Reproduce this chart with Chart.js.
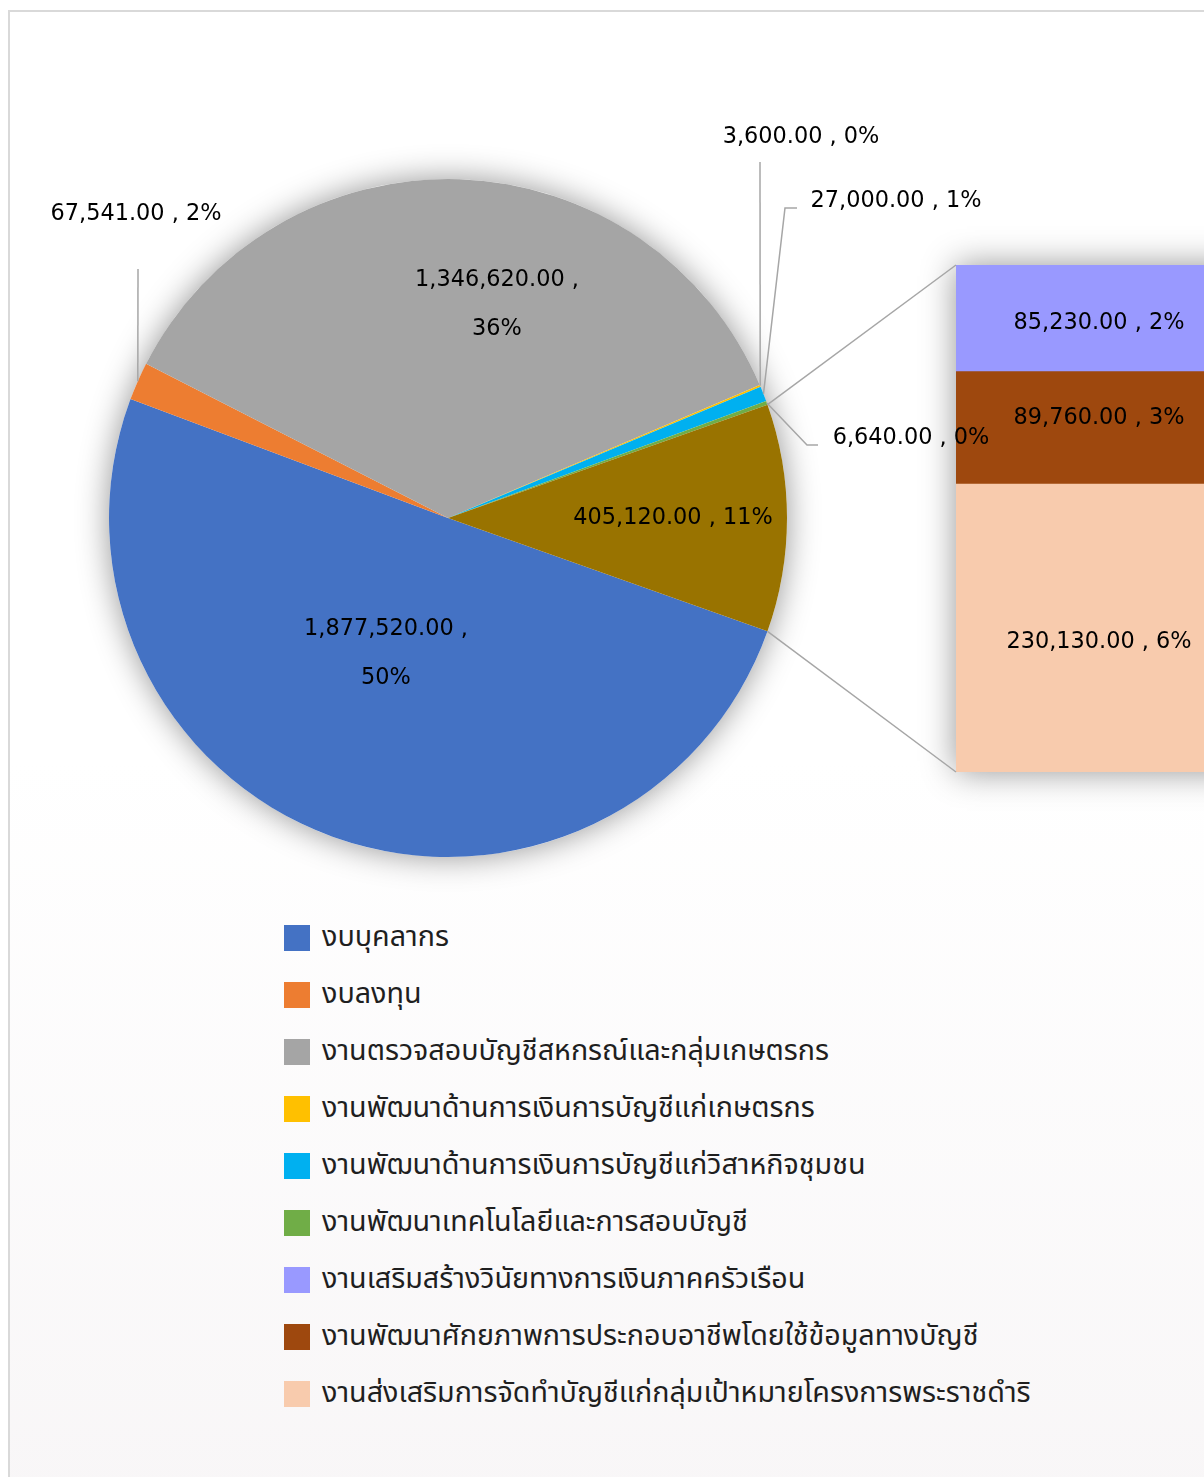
<!DOCTYPE html>
<html lang="th">
<head>
<meta charset="utf-8">
<title>งบประมาณ</title>
<script src="https://cdn.jsdelivr.net/npm/chart.js@4.4.1/dist/chart.umd.min.js"></script>
<style>
    html, body { margin: 0; padding: 0; width: 1204px; height: 1477px; overflow: hidden; background: #fff; }
    #card {
        position: absolute; left: 8px; top: 10px; width: 1300px; height: 1500px;
        border-left: 2px solid #d9d9d9; border-top: 2px solid #d9d9d9;
        background: linear-gradient(to bottom, #ffffff 0%, #ffffff 50%, #f8f6f7 100%);
    }
    .layer { position: absolute; left: 0; top: 0; }
    #legend {
        position: absolute; left: 284px; top: 909px; margin: 0; padding: 0; list-style: none;
        font-family: "Noto Sans Thai", "Noto Sans Thai UI", "Loma", "Garuda", "Tlwg Typo", sans-serif;
        font-size: 28.7px; color: #1f1f1f;
    }
    #legend li { height: 57px; display: flex; align-items: center; white-space: nowrap; }
    #legend .box { width: 26px; height: 26px; margin-right: 12px; flex: none; }
</style>
</head>
<body>
<div id="card"></div>
<canvas id="barChart" class="layer" width="1260" height="900"></canvas>
<canvas id="pieChart" class="layer" width="1260" height="900"></canvas>
<ul id="legend"></ul>

<script>
// 파이 쪽 항목
const pieLabels = [
    'งบบุคลากร',
    'งบลงทุน',
    'งานตรวจสอบบัญชีสหกรณ์และกลุ่มเกษตรกร',
    'งานพัฒนาด้านการเงินการบัญชีแก่เกษตรกร',
    'งานพัฒนาด้านการเงินการบัญชีแก่วิสาหกิจชุมชน',
    'งานพัฒนาเทคโนโลยีและการสอบบัญชี'
];
const pieValues = [1877520, 67541, 1346620, 3600, 27000, 6640];

// 오른쪽 막대로 빠지는 항목 (위에서 아래 순서)
const barLabels = [
    'งานเสริมสร้างวินัยทางการเงินภาคครัวเรือน',
    'งานพัฒนาศักยภาพการประกอบอาชีพโดยใช้ข้อมูลทางบัญชี',
    'งานส่งเสริมการจัดทำบัญชีแก่กลุ่มเป้าหมายโครงการพระราชดำริ'
];
const barValues = [85230, 89760, 230130];

const pieColors = ['#4472C4', '#ED7D31', '#A5A5A5', '#FFC000', '#00B0F0', '#70AD47'];
const barColors = ['#9999FF', '#9E480E', '#F8CBAD'];
const otherColor = '#997300';

// 파이 위치 / 막대 위치
const PIE_CX = 448, PIE_CY = 518, PIE_R = 339;
const BAR_LEFT = 956, BAR_RIGHT = 1242, BAR_TOP = 265, BAR_BOTTOM = 772;
const CANVAS_W = 1260, CANVAS_H = 900;

const LABEL_FONT = '22.4px "DejaVu Sans", Verdana, sans-serif';
const LINE_COLOR = '#A6A6A6';
const SHADOW = { color: 'rgba(0,0,0,0.42)', blur: 32 };

// 라벨 위치 (파이 중심 기준 오프셋) : blue, orange, gray, yellow, cyan, green, other
const pieLabelPlace = [
    { dx: -62, dy: 136, wrap: true },
    { dx: -312, dy: -304, leader: [[-310, -249]] },
    { dx: 49, dy: -213, wrap: true },
    { dx: 353, dy: -381, leader: [[312, -356]] },
    { dx: 448, dy: -317, leader: [[337, -310], [349, -310]] },
    { dx: 463, dy: -80, leader: [[359, -73], [370, -73]] },
    { dx: 225, dy: 0 }
];
// 막대 라벨 세로 보정 (위에서 아래)
const barLabelShift = [5, -10, 14];

const otherValue = barValues.reduce((a, b) => a + b, 0);
const total = pieValues.reduce((a, b) => a + b, 0) + otherValue;

// 엑셀처럼 합이 100 되도록 반올림 (largest remainder)
function roundedPercents(values) {
    const raw = values.map(v => v / total * 100);
    const floors = raw.map(Math.floor);
    let rest = 100 - floors.reduce((a, b) => a + b, 0);
    const order = raw.map((r, i) => [r - floors[i], i]).sort((a, b) => b[0] - a[0]);
    for (let k = 0; k < rest; k++) floors[order[k][1]] += 1;
    return floors;
}
const leafPct = roundedPercents([...pieValues, ...barValues]);
const piePct = [...leafPct.slice(0, pieValues.length), Math.round(otherValue / total * 100)];
const barPct = leafPct.slice(pieValues.length);

function fmt(v) {
    return v.toLocaleString('en-US', { minimumFractionDigits: 2, maximumFractionDigits: 2 });
}

let barChartInstance = null;
let pieChartInstance = null;

// 막대 차트 (아래 레이어)
function renderBarChart() {
    const ctx = document.getElementById('barChart').getContext('2d');
    // 쌓는 순서는 아래부터
    const order = [2, 1, 0];

    const barShadow = {
        id: 'barShadow',
        beforeDatasetsDraw(chart) {
            const y = chart.scales.y;
            const el = chart.getDatasetMeta(0).data[0];
            const c = chart.ctx;
            c.save();
            c.shadowColor = SHADOW.color;
            c.shadowBlur = SHADOW.blur;
            c.fillStyle = '#fff';
            c.fillRect(el.x - el.width / 2, y.getPixelForValue(otherValue), el.width,
                y.getPixelForValue(0) - y.getPixelForValue(otherValue));
            c.restore();
        },
        afterDatasetsDraw(chart) {
            const c = chart.ctx;
            c.save();
            c.font = LABEL_FONT;
            c.fillStyle = '#000';
            c.textAlign = 'center';
            c.textBaseline = 'middle';
            order.forEach((src, di) => {
                const el = chart.getDatasetMeta(di).data[0];
                const cy = (el.y + el.base) / 2 + barLabelShift[src];
                c.fillText(fmt(barValues[src]) + ' , ' + barPct[src] + '%', el.x, cy);
            });
            c.restore();
        }
    };

    barChartInstance = new Chart(ctx, {
        type: 'bar',
        data: {
            labels: ['other'],
            datasets: order.map(i => ({
                label: barLabels[i],
                data: [barValues[i]],
                backgroundColor: barColors[i],
                borderWidth: 0,
                barPercentage: 1,
                categoryPercentage: 1
            }))
        },
        options: {
            responsive: false,
            animation: false,
            layout: {
                padding: { left: BAR_LEFT, right: CANVAS_W - BAR_RIGHT, top: BAR_TOP, bottom: CANVAS_H - BAR_BOTTOM }
            },
            plugins: { legend: { display: false }, tooltip: { enabled: false } },
            scales: {
                x: { stacked: true, display: false },
                y: { stacked: true, display: false, min: 0, max: otherValue }
            }
        },
        plugins: [barShadow]
    });
}

// 파이 차트 (위 레이어) - 연결선, 라벨도 여기서 그림
function renderPieChart() {
    const ctx = document.getElementById('pieChart').getContext('2d');
    const otherDeg = otherValue / total * 360;

    const pieDecor = {
        id: 'pieDecor',
        beforeDatasetsDraw(chart) {
            const a = chart.getDatasetMeta(0).data[0];
            const c = chart.ctx;
            c.save();
            c.shadowColor = SHADOW.color;
            c.shadowBlur = SHADOW.blur;
            c.fillStyle = '#fff';
            c.beginPath();
            c.arc(a.x, a.y, a.outerRadius, 0, Math.PI * 2);
            c.fill();
            c.restore();
        },
        afterDatasetsDraw(chart) {
            const arcs = chart.getDatasetMeta(0).data;
            const c = chart.ctx;
            const cx = arcs[0].x, cy = arcs[0].y;
            c.save();
            c.strokeStyle = LINE_COLOR;
            c.lineWidth = 1.5;

            // 파이 -> 막대 연결선
            const other = arcs[arcs.length - 1];
            const bar = barChartInstance;
            const topEl = bar.getDatasetMeta(bar.data.datasets.length - 1).data[0];
            const botEl = bar.getDatasetMeta(0).data[0];
            const bx = topEl.x - topEl.width / 2;
            const pts = [
                [other.startAngle, topEl.y],
                [other.endAngle, botEl.base]
            ];
            pts.forEach(([ang, by]) => {
                c.beginPath();
                c.moveTo(cx + other.outerRadius * Math.cos(ang), cy + other.outerRadius * Math.sin(ang));
                c.lineTo(bx, by);
                c.stroke();
            });

            // 지시선
            arcs.forEach((a, i) => {
                const p = pieLabelPlace[i];
                if (!p.leader) return;
                const mid = (a.startAngle + a.endAngle) / 2;
                c.beginPath();
                c.moveTo(cx + a.outerRadius * Math.cos(mid), cy + a.outerRadius * Math.sin(mid));
                p.leader.forEach(([lx, ly]) => c.lineTo(cx + lx, cy + ly));
                c.stroke();
            });

            // 데이터 라벨
            c.font = LABEL_FONT;
            c.fillStyle = '#000';
            c.textAlign = 'center';
            c.textBaseline = 'middle';
            const vals = [...pieValues, otherValue];
            vals.forEach((v, i) => {
                const p = pieLabelPlace[i];
                const x = cx + p.dx, y = cy + p.dy;
                if (p.wrap) {
                    c.fillText(fmt(v) + ' ,', x, y - 24.5);
                    c.fillText(piePct[i] + '%', x, y + 24.5);
                } else {
                    c.fillText(fmt(v) + ' , ' + piePct[i] + '%', x, y);
                }
            });
            c.restore();
        }
    };

    pieChartInstance = new Chart(ctx, {
        type: 'pie',
        data: {
            labels: [...pieLabels, 'อื่นๆ'],
            datasets: [{
                data: [...pieValues, otherValue],
                backgroundColor: [...pieColors, otherColor],
                borderWidth: 0
            }]
        },
        options: {
            responsive: false,
            animation: false,
            rotation: 90 + otherDeg / 2,   // 나머지 조각이 3시 방향 가운데 오도록
            layout: {
                padding: {
                    left: PIE_CX - PIE_R, right: CANVAS_W - PIE_CX - PIE_R,
                    top: PIE_CY - PIE_R, bottom: CANVAS_H - PIE_CY - PIE_R
                }
            },
            plugins: { legend: { display: false }, tooltip: { enabled: false } }
        },
        plugins: [pieDecor]
    });
}

// 범례
function renderLegend() {
    const ul = document.getElementById('legend');
    const names = [...pieLabels, ...barLabels];
    const colors = [...pieColors, ...barColors];
    names.forEach((name, i) => {
        const li = document.createElement('li');
        li.innerHTML = `<span class="box" style="background:${colors[i]}"></span><span>${name}</span>`;
        ul.appendChild(li);
    });
}

renderBarChart();
renderPieChart();
renderLegend();
</script>
</body>
</html>
